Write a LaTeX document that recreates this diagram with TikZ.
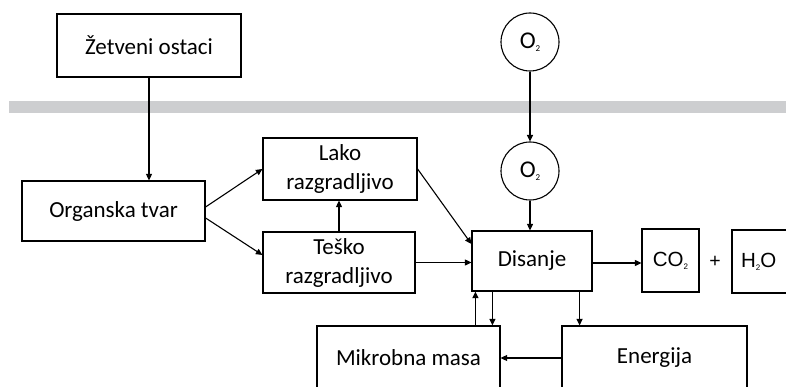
\documentclass[tikz,border=0pt]{standalone}
\usepackage{fontspec}
\setmainfont{Carlito}
\newfontfamily\arialf{Liberation Sans}
\usetikzlibrary{arrows.meta,calc}
\definecolor{bargray}{RGB}{205,206,208}
\begin{document}
\begin{tikzpicture}[x=1pt,y=-1pt,
  box/.style={draw,line width=1.2pt,inner sep=0pt,align=center,font=\fontsize{23}{29}\selectfont},
  gas/.style={draw,circle,line width=1.1pt,minimum size=58pt,inner sep=0pt,font=\fontsize{24}{28}\selectfont},
  arr/.style={line width=1.1pt,-{Triangle[length=6.5pt,width=6pt]}},
  ln/.style={line width=1.1pt}]
\useasboundingbox (0,0) rectangle (786,387);
\clip (0,0) rectangle (786,387);
\fill[bargray] (9,101) rectangle (786,113);
\node[box,minimum width=184pt,minimum height=63pt] (zet) at (149,45.5) {Žetveni ostaci};
\node[box,minimum width=183pt,minimum height=60pt] (org) at (113.5,211) {Organska tvar};
\node[box,minimum width=154pt,minimum height=62pt] (lako) at (340,169) {Lako\\razgradljivo};
\node[box,minimum width=152pt,minimum height=61pt] (tesko) at (339,262.5) {Teško\\razgradljivo};
\node[box,minimum width=120pt,minimum height=60pt] (dis) at (532,261) {Disanje};
\node[box,minimum width=57pt,minimum height=63pt,font=\arialf\fontsize{20.5}{24}\selectfont] (co2) at (670.5,260.5) {CO\raisebox{-3pt}{\fontsize{8}{9}\selectfont 2}};
\node[font=\arialf\fontsize{19.5}{23}\selectfont] (plus) at (715,262) {+};
\node[box,minimum width=76pt,minimum height=63pt,font=\arialf\fontsize{20.5}{24}\selectfont,text width=60pt,align=left] (h2o) at (770,261.5) {\hspace*{1pt}H\raisebox{-3pt}{\fontsize{8}{9}\selectfont 2}O};
\node[box,minimum width=183pt,minimum height=64pt] (mik) at (408.5,358) {Mikrobna masa};
\node[box,minimum width=185pt,minimum height=64pt] (ene) at (654.5,358) {Energija};
\node[gas] (o2a) at (530,42) {O\raisebox{-3pt}{\fontsize{9}{10}\selectfont 2}};
\node[gas] (o2b) at (530,171) {O\raisebox{-3pt}{\fontsize{9}{10}\selectfont 2}};
\draw[arr] (zet.south) -- (zet.south |- org.north);
\draw[arr] ([yshift=4pt]org.east) -- (lako.west);
\draw[arr] ([yshift=-7pt]org.east) -- ([yshift=7.5pt]tesko.west);
\draw[arr] (tesko.north) -- (tesko.north |- lako.south);
\draw[arr] (lako.east) -- ([yshift=17pt]dis.west);
\draw[arr] (tesko.east) -- (tesko.east -| dis.west);
\draw[arr] (o2a.south) -- (o2b.north);
\draw[arr] (o2b.south) -- (o2b.south |- dis.north);
\draw[arr] ([yshift=-2pt]dis.east) -- ([yshift=-2pt]dis.east -| co2.west);
\draw[arr] ([xshift=4pt]dis.south west |- mik.north) -- ([xshift=4pt]dis.south west);
\draw[arr] ([xshift=21pt]dis.south west) -- ([xshift=21pt]dis.south west |- mik.north);
\draw[arr] ([xshift=-13pt]dis.south east) -- ([xshift=-13pt]dis.south east |- ene.north);
\draw[arr] (ene.west) -- (mik.east);
\end{tikzpicture}
\end{document}
